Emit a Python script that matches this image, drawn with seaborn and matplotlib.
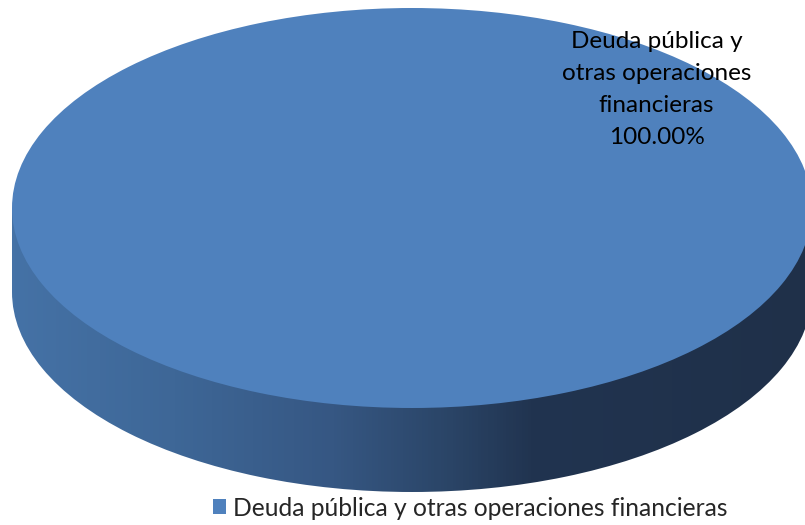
import textwrap
import numpy as np
import matplotlib
matplotlib.use("Agg")
import matplotlib.pyplot as plt
import seaborn as sns
from matplotlib.colors import LinearSegmentedColormap
from matplotlib.patches import Rectangle

# data
categories = ["Deuda pública y otras operaciones financieras"]
values = [100.0]

top_color = "#4f81bd"
# side shading, left -> right
side_stops = [(0.0, "#4572a6"), (0.2, "#3e6797"), (0.4, "#365783"), (0.55, "#2a4466"),
              (0.65, "#213450"), (1.0, "#1f3049")]

sns.set_theme(style="white")
plt.rcParams["font.family"] = ["Lato", "DejaVu Sans"]

fig = plt.figure(figsize=(8.05, 5.25), dpi=100)
ax = fig.add_axes([0, 0, 1, 1])

depth = 0.42

# side of the cylinder: bottom ellipse + band, filled with horizontal gradient
bottom, _ = ax.pie(values, radius=1, center=(0, -depth), colors=[top_color],
                   wedgeprops=dict(linewidth=0), frame=False)
band = Rectangle((-1, -depth), 2, depth, transform=ax.transData, facecolor="none", linewidth=0)
ax.add_patch(band)
cmap = LinearSegmentedColormap.from_list("side", side_stops)
grad = np.linspace(0, 1, 256).reshape(1, -1)
for clip in (bottom[0], band):
    im = ax.imshow(grad, cmap=cmap, aspect="auto", extent=(-1, 1, -depth - 1, 0), zorder=2)
    im.set_clip_path(clip)
bottom[0].set_visible(False)

# top face
wrapped = [textwrap.fill(c, 18) for c in categories]
wedges, texts, autotexts = ax.pie(
    values, radius=1, colors=[top_color], startangle=224,
    wedgeprops=dict(linewidth=0, zorder=3),
    autopct=lambda p: f"{wrapped[0]}\n{p:.2f}%", pctdistance=0.85,
    textprops=dict(fontsize=17.5, color="black", linespacing=1.65), frame=False)
for t in autotexts:
    t.set_zorder(5)
    t.set_multialignment("center")

ax.set_aspect("auto")
ax.set_xlim(-1.03, 0.9825)
ax.set_ylim(-1.585, 1.04)
ax.axis("off")

fig.legend(wedges, categories, loc="center", bbox_to_anchor=(470 / 805, 1 - 508 / 525),
           frameon=False, fontsize=17.7, handlelength=0.55, handleheight=0.55,
           handletextpad=0.25, borderpad=0)

fig.savefig("out.png", dpi=100)
